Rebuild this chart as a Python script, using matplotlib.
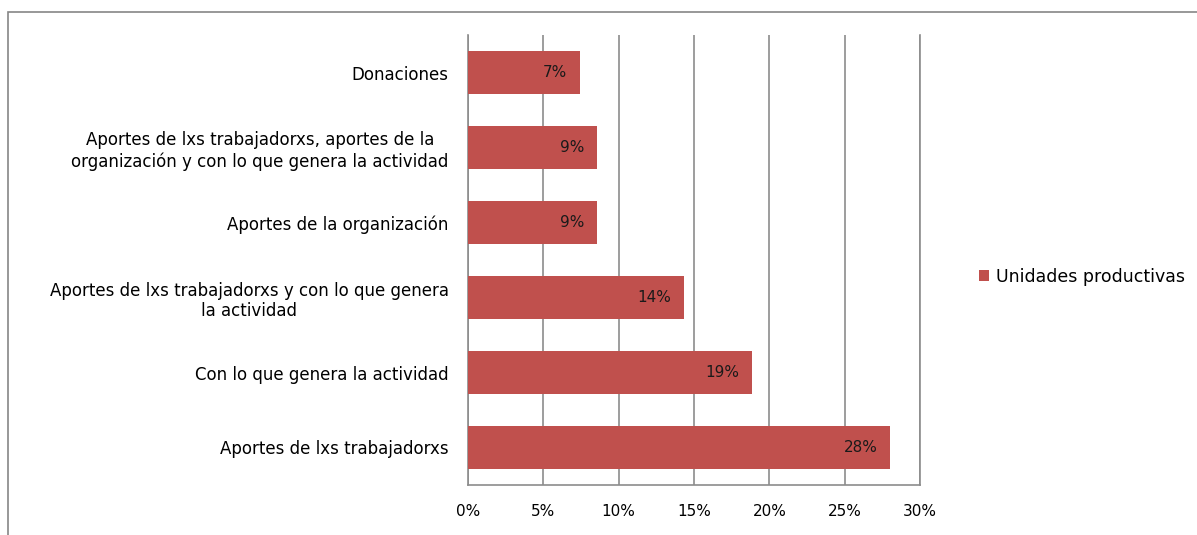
import matplotlib.pyplot as plt
from matplotlib.patches import Rectangle
from matplotlib.ticker import FuncFormatter

categories = [
    "Aportes de lxs trabajadorxs",
    "Con lo que genera la actividad",
    "Aportes de lxs trabajadorxs y con lo que genera\nla actividad",
    "Aportes de la organización",
    "Aportes de lxs trabajadorxs, aportes de la\norganización y con lo que genera la actividad",
    "Donaciones",
]
values = [28.0, 18.85, 14.33, 8.56, 8.56, 7.43]
series_name = "Unidades productivas"
xticks = [0, 5, 10, 15, 20, 25, 30]

bar_color = "#C0504D"
grid_color = "#8C8C8C"
fs = 11

fig = plt.figure(figsize=(11.97, 5.35), dpi=100)
ax = fig.add_axes([468 / 1197, 1 - 485 / 535, 452 / 1197, 450 / 535])

# outer chart border (only top and left visible in the reference)
fig.patches.append(Rectangle((8 / 1197, -0.1), 1.2, 1 - 12 / 535 + 0.1,
                             transform=fig.transFigure, fill=False,
                             edgecolor="#868686", linewidth=1.2))

ypos = range(len(categories))
bars = ax.barh(ypos, values, height=0.57, color=bar_color, label=series_name, zorder=3)

for b, v in zip(bars, values):
    ax.annotate(f"{round(v):.0f}%", xy=(b.get_width(), b.get_y() + b.get_height() / 2),
                xytext=(-9, 0), textcoords="offset points", ha="right", va="center",
                fontsize=fs, color="#1a1a1a", zorder=4)

ax.set_xlim(0, 30)
ax.set_ylim(-0.5, len(categories) - 0.5)
ax.set_xticks(xticks)
ax.xaxis.set_major_formatter(FuncFormatter(lambda x, p: f"{x:.0f}%"))
ax.set_yticks(list(ypos))
ax.set_yticklabels(categories, fontsize=12, multialignment="center")
ax.tick_params(axis="x", labelsize=fs, length=0, pad=14)
ax.tick_params(axis="y", length=0, pad=14)
ax.grid(axis="x", color=grid_color, linewidth=1.2, zorder=0)
for s in ax.spines.values():
    s.set_color(grid_color)
    s.set_linewidth(1.2)
ax.spines["top"].set_visible(False)

ax.legend(loc="center left", bbox_to_anchor=(963 / 1197, 1 - 277 / 535),
          bbox_transform=fig.transFigure, frameon=False, fontsize=12.5,
          handlelength=0.6, handleheight=0.6, handletextpad=0.4)

fig.savefig("out.png", dpi=100)
